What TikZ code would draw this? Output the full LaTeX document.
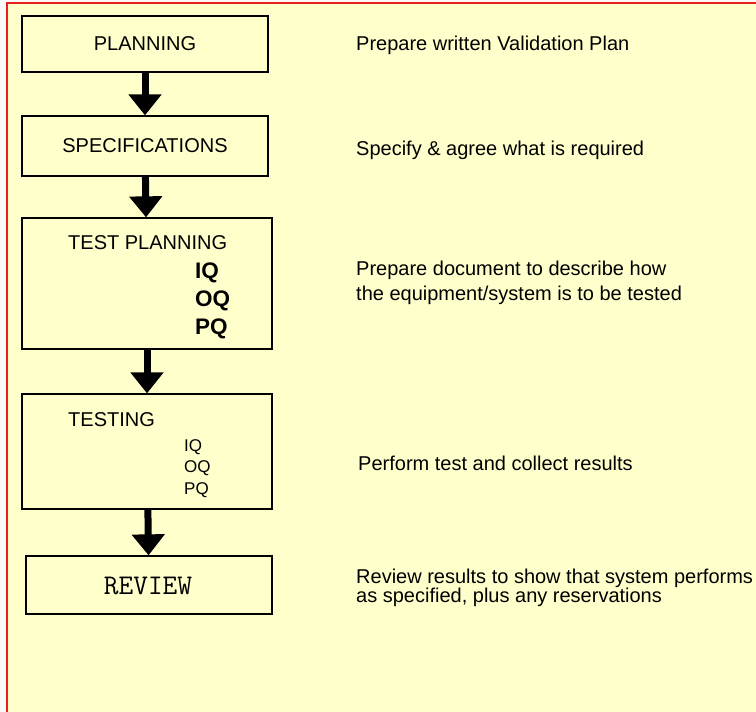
\documentclass[tikz,border=0pt]{standalone}
\usepackage{fontspec}
\setmainfont{Liberation Sans}
\usepackage{xcolor}
\usetikzlibrary{arrows.meta,positioning}
\definecolor{notepad}{HTML}{FFFFCC}
\definecolor{framered}{HTML}{E8201C}

\begin{document}
\begin{tikzpicture}[x=1pt, y=-1pt,
    stage/.style={rectangle, draw=black, line width=1.3pt, minimum width=246pt, minimum height=56pt, inner sep=0pt},
    label/.style={inner sep=0pt, anchor=west, font=\fontsize{20}{22}\selectfont},
    note/.style={inner sep=0pt, anchor=west, align=left, font=\fontsize{20}{25}\selectfont},
    fat/.style={-{Triangle[length=21pt, width=32pt]}, line width=7pt, black, shorten >=0pt}
]
    \useasboundingbox (0,0) rectangle (756,712);
    \fill[white!95!gray] (0,0) rectangle (756,712);
    \fill[notepad] (7,3) rectangle (756,712);
    \draw[framered, line width=1.2pt] (7,712) -- (7,3) -- (756,3);

    \node[stage] (plan)   at (145,44)    {};
    \node[stage, minimum height=60pt] (spec) at (145,146) {};
    \node[stage, minimum width=250pt, minimum height=131pt] (tplan) at (147,283.5) {};
    \node[stage, minimum width=250pt, minimum height=115pt] (test)  at (147,451.5) {};
    \node[stage, minimum height=58pt] (review) at (149,585) {};

    \node[label, anchor=center] (planlbl) at (plan) {PLANNING};
    \node[label, anchor=center] (speclbl) at (spec) {SPECIFICATIONS};
    \node[label] (tplanlbl) at (68,243) {TEST PLANNING};
    \node[inner sep=0pt, anchor=north west, align=left, font=\bfseries\fontsize{22.5}{28}\selectfont] (tplanq) at (195,263) {IQ\\OQ\\PQ};
    \node[label] (testlbl) at (68,420) {TESTING};
    \node[inner sep=0pt, anchor=north west, align=left, font=\fontsize{17}{21.5}\selectfont] (testq) at (184,439) {IQ\\OQ\\PQ};
    \node[inner sep=0pt, font=\ttfamily\fontsize{28.5}{28.5}\selectfont] (reviewlbl) at (148,586) {REVIEW};

    \node[note] (nplan)   at (356,45)  {Prepare written Validation Plan};
    \node[note] (nspec)   at (356,150) {Specify \& agree what is required};
    \node[note] (ntplan)  at (356,283) {Prepare document to describe how\\the equipment/system is to be tested};
    \node[note] (ntest)   at (358,463) {Perform test and collect results};
    \node[note, font=\fontsize{20}{19}\selectfont] (nreview) at (356,588) {Review results to show that system performs\\as specified, plus any reservations};

    \draw[fat] (plan)  -- (spec);
    \draw[fat] (spec)  -- (tplan);
    \draw[fat] (tplan) -- (test);
    \draw[fat] (test)  -- (review);
\end{tikzpicture}
\end{document}
